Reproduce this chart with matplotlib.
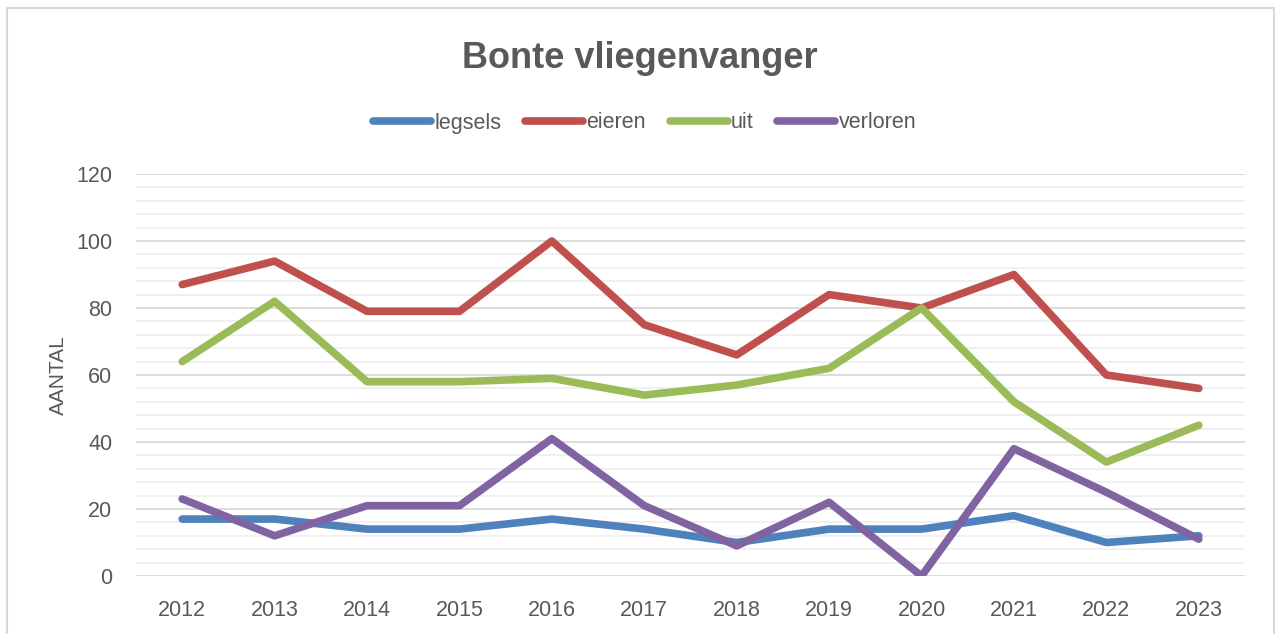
import matplotlib.pyplot as plt
from matplotlib.patches import Rectangle
from matplotlib.ticker import MultipleLocator

plt.rcParams['font.family'] = ['Liberation Sans', 'DejaVu Sans']

years = ["2012", "2013", "2014", "2015", "2016", "2017", "2018", "2019", "2020", "2021", "2022", "2023"]
legsels = [17, 17, 14, 14, 17, 14, 10, 14, 14, 18, 10, 12]
eieren = [87, 94, 79, 79, 100, 75, 66, 84, 80, 90, 60, 56]
uit = [64, 82, 58, 58, 59, 54, 57, 62, 80, 52, 34, 45]
verloren = [23, 12, 21, 21, 41, 21, 9, 22, 0, 38, 25, 11]

series = [("legsels", legsels, "#4F81BD"), ("eieren", eieren, "#C0504D"),
          ("uit", uit, "#9BBB59"), ("verloren", verloren, "#8064A2")]
txt = "#595959"

fig = plt.figure(figsize=(12.79, 6.34), dpi=100)
fig.patches.append(Rectangle((7 / 1279, -0.1), 1267 / 1279, 1.1 - 8 / 634,
                             transform=fig.transFigure, fill=False,
                             edgecolor="#d9d9d9", linewidth=1.5))
ax = fig.add_axes([136 / 1279, 1 - 576 / 634, 1109 / 1279, 402 / 634])

x = range(len(years))
for name, vals, col in series:
    ax.plot(x, vals, color=col, linewidth=5.5, solid_capstyle="round",
            solid_joinstyle="round", label=name)

ax.set_xlim(-0.5, len(years) - 0.5)
ax.set_ylim(0, 120)
ax.yaxis.set_major_locator(MultipleLocator(20))
ax.yaxis.set_minor_locator(MultipleLocator(4))
ax.grid(which="major", axis="y", color="#d9d9d9", linewidth=1.3)
ax.grid(which="minor", axis="y", color="#efefef", linewidth=1.3)
ax.set_axisbelow(True)
for s in ax.spines.values():
    s.set_visible(False)
ax.tick_params(which="both", length=0)
ax.tick_params(axis="y", pad=17, labelsize=15.5, labelcolor=txt)
ax.tick_params(axis="x", pad=17, labelsize=15.5, labelcolor=txt)
ax.set_xticks(list(x))
ax.set_xticklabels(years)
ax.set_ylabel("AANTAL", fontsize=15, color=txt, labelpad=6)

fig.text(0.5, 1 - 58 / 634, "Bonte vliegenvanger", ha="center", va="center",
         fontsize=26, fontweight="bold", color=txt)
fig.legend(loc="center", bbox_to_anchor=(0.504, 1 - 123 / 634), ncol=4,
           frameon=False, fontsize=15.5, labelcolor=txt, handlelength=2.7,
           handletextpad=0.15, columnspacing=1.1)

fig.savefig("out.png", dpi=100)
